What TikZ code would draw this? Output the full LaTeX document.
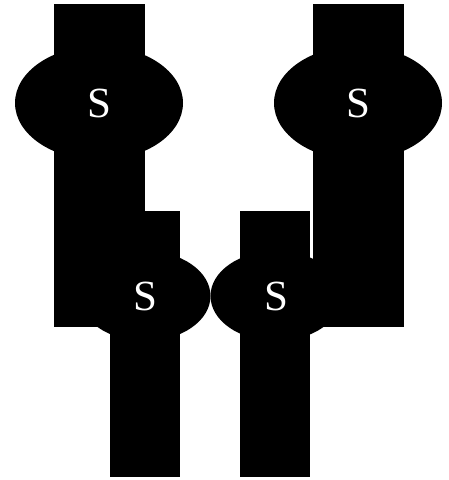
\documentclass[tikz,border=0pt]{standalone}
\usepackage{fontspec}
\setmainfont{Liberation Serif}
\usetikzlibrary{shapes.geometric}
\begin{document}
\begin{tikzpicture}[x=1pt,y=1pt]
    \tikzset{
        bar/.style={rectangle,fill=black,inner sep=0pt},
        blob/.style={ellipse,fill=black,text=white,inner sep=0pt,
            font=\fontsize{43}{43}\selectfont}
    }
    \useasboundingbox (0,0) rectangle (448,480);

    % obere Reihe
    \node[bar,minimum width=91pt,minimum height=323pt] (barUL) at (99.5,314.5) {};
    \node[bar,minimum width=91pt,minimum height=323pt] (barUR) at (358.5,314.5) {};
    \node[blob,minimum width=168pt,minimum height=114pt] (sUL) at (99,377) {S};
    \node[blob,minimum width=168pt,minimum height=114pt] (sUR) at (358,377) {S};

    % untere Reihe
    \node[bar,minimum width=70pt,minimum height=266pt] (barLL) at (145,136) {};
    \node[bar,minimum width=70pt,minimum height=266pt] (barLR) at (274.5,135.5) {};
    \node[blob,minimum width=131pt,minimum height=90pt] (sLL) at (145,184) {S};
    \node[blob,minimum width=131pt,minimum height=90pt] (sLR) at (276,184) {S};
\end{tikzpicture}
\end{document}
